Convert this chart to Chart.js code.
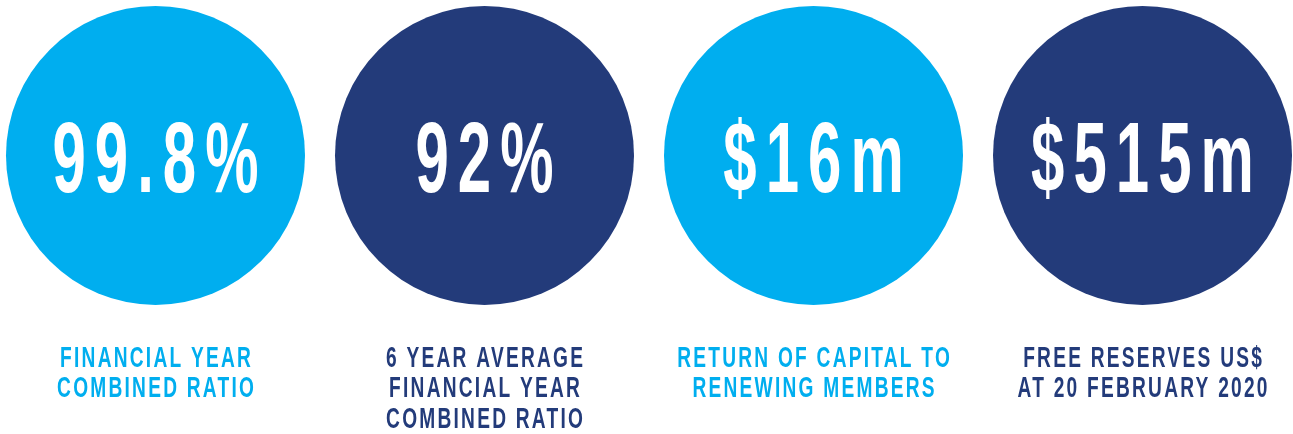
<!DOCTYPE html>
<html>
<head>
<meta charset="utf-8">
<script src="https://cdn.jsdelivr.net/npm/chart.js@4"></script>
<style>
  html, body { margin: 0; padding: 0; background: #ffffff; }
  #wrap { width: 1293px; height: 434px; }
</style>
</head>
<body>
<div id="wrap"><canvas id="c" width="1293" height="434"></canvas></div>
<script>
// ---- data ----
const categories = [
  ['FINANCIAL YEAR', 'COMBINED RATIO'],
  ['6 YEAR AVERAGE', 'FINANCIAL YEAR', 'COMBINED RATIO'],
  ['RETURN OF CAPITAL TO', 'RENEWING MEMBERS'],
  ['FREE RESERVES US$', 'AT 20 FEBRUARY 2020']
];
const values = [99.8, 92, 16, 515];
const valueLabels = ['99.8%', '92%', '$16m', '$515m'];
const colors = ['#00AEEF', '#233B7A', '#00AEEF', '#233B7A'];

const points = values.map((v, i) => ({ x: i, y: 0, v: v }));

function spacedText(ctx, text, x, y, sx, ls) {
  ctx.save();
  ctx.translate(x, y);
  ctx.scale(sx, 1);
  if ('letterSpacing' in ctx) {
    ctx.letterSpacing = ls + 'px';
    ctx.fillText(text, ls / 2, 0);
  } else {
    ctx.fillText(text, 0, 0);
  }
  ctx.restore();
}

const textPlugin = {
  id: 'circleText',
  afterDatasetsDraw(chart) {
    const ctx = chart.ctx;
    const meta = chart.getDatasetMeta(0);
    meta.data.forEach((pt, i) => {
      const cx = pt.x, cy = pt.y;
      ctx.save();
      ctx.textAlign = 'center';
      ctx.textBaseline = 'alphabetic';
      // big value
      ctx.fillStyle = '#ffffff';
      ctx.font = 'bold 100px "Liberation Sans", Arial, sans-serif';
      spacedText(ctx, valueLabels[i], cx, cy + 36.5, 0.6, 15);
      // label lines
      ctx.fillStyle = colors[i];
      ctx.font = 'bold 29px "Liberation Sans", Arial, sans-serif';
      categories[i].forEach((line, j) => {
        spacedText(ctx, line, cx, cy + 211.5 + j * 30.5, 0.66, 3.4);
      });
      ctx.restore();
    });
  }
};

new Chart(document.getElementById('c'), {
  type: 'scatter',
  data: {
    datasets: [{
      data: points,
      clip: false,
      pointRadius: 149.5,
      pointHoverRadius: 149.5,
      pointBorderWidth: 0,
      borderWidth: 0,
      backgroundColor: colors,
      pointBackgroundColor: colors
    }]
  },
  options: {
    responsive: false,
    animation: false,
    events: [],
    layout: { padding: 0, autoPadding: false },
    plugins: { legend: { display: false }, tooltip: { enabled: false } },
    scales: {
      x: { type: 'linear', display: false, min: -0.4726, max: 3.4574 },
      y: { type: 'linear', display: false, min: -1, max: 0.5578 }
    }
  },
  plugins: [textPlugin]
});
</script>
</body>
</html>
